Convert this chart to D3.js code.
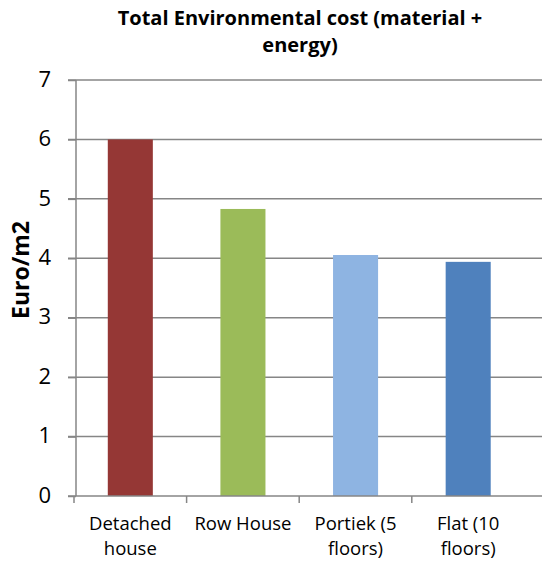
<!DOCTYPE html>
<html><head><meta charset="utf-8">
<script src="https://cdn.jsdelivr.net/npm/d3@7"></script>
<style>body{margin:0;background:#fff}svg{display:block}</style>
</head><body>
<script>
const categories = [["Detached","house"],["Row House"],["Portiek (5","floors)"],["Flat (10","floors)"]];
const categoryKeys = ["Detached house","Row House","Portiek (5 floors)","Flat (10 floors)"];
const values = [6.0, 4.83, 4.055, 3.94];
const colors = ["#953735","#9BBB59","#8EB4E2","#4F81BD"];
const yTicks = [0,1,2,3,4,5,6,7];
const titleLines = ["Total Environmental cost (material +","energy)"];
const yLabel = "Euro/m2";

const W = 542, H = 563;
const svg = d3.select("body").append("svg").attr("width", W).attr("height", H);
const font = "'Open Sans', sans-serif";

const x = d3.scaleBand().domain(categoryKeys).range([74, 524.5]).paddingInner(0.6).paddingOuter(0.3);
const y = d3.scaleLinear().domain([0,7]).range([496, 80]);

// gridlines
svg.append("g").selectAll("line").data(yTicks.filter(d=>d>0)).join("line")
  .attr("x1", 68).attr("x2", W).attr("y1", d=>y(d)).attr("y2", d=>y(d))
  .attr("stroke", "#868686").attr("stroke-width", 1.5);

// bars
svg.append("g").selectAll("rect").data(values).join("rect")
  .attr("x", (d,i)=>x(categoryKeys[i])).attr("width", x.bandwidth())
  .attr("y", d=>y(d)).attr("height", d=>y(0)-y(d))
  .attr("fill", (d,i)=>colors[i]);

// y axis
const yAxis = svg.append("g").attr("transform", "translate(76,0)")
  .call(d3.axisLeft(y).tickValues(yTicks).tickSize(8).tickPadding(17).tickFormat(d3.format("d")));
yAxis.select(".domain").attr("stroke", "#868686").attr("stroke-width", 1.5).attr("d", "M0,496V80");
yAxis.selectAll(".tick line").attr("stroke", "#868686").attr("stroke-width", 1.5);
yAxis.selectAll(".tick text").attr("font-family", font).attr("font-size", 22).attr("fill", "#000").attr("dy", "0.28em");

// x axis
const bounds = [74, 74+112.6, 74+225.2, 74+337.8];
svg.append("line").attr("x1", 68).attr("x2", W).attr("y1", 496).attr("y2", 496)
  .attr("stroke", "#868686").attr("stroke-width", 1.5);
svg.append("g").selectAll("line").data(bounds).join("line")
  .attr("x1", d=>d).attr("x2", d=>d).attr("y1", 496).attr("y2", 503)
  .attr("stroke", "#868686").attr("stroke-width", 1.5);

const lab = svg.append("g").selectAll("text").data(categories).join("text")
  .attr("x", (d,i)=>x(categoryKeys[i]) + x.bandwidth()/2)
  .attr("y", 530).attr("text-anchor", "middle")
  .attr("font-family", font).attr("font-size", 18.5).attr("fill", "#000");
lab.selectAll("tspan").data(d=>d).join("tspan")
  .attr("x", function(){ return this.parentNode.getAttribute("x"); })
  .attr("dy", (d,i)=> i===0 ? 0 : 25).text(d=>d);

// title
svg.append("g").selectAll("text").data(titleLines).join("text")
  .attr("x", 300).attr("y", (d,i)=>25 + i*27).attr("text-anchor", "middle")
  .attr("font-family", font).attr("font-weight", "bold").attr("font-size", 20).attr("fill", "#000")
  .text(d=>d);

// y label
svg.append("text").attr("transform", "translate(29,270) rotate(-90)")
  .attr("text-anchor", "middle").attr("font-family", font).attr("font-weight", "bold")
  .attr("font-size", 23).attr("fill", "#000").text(yLabel);
</script>
</body></html>
